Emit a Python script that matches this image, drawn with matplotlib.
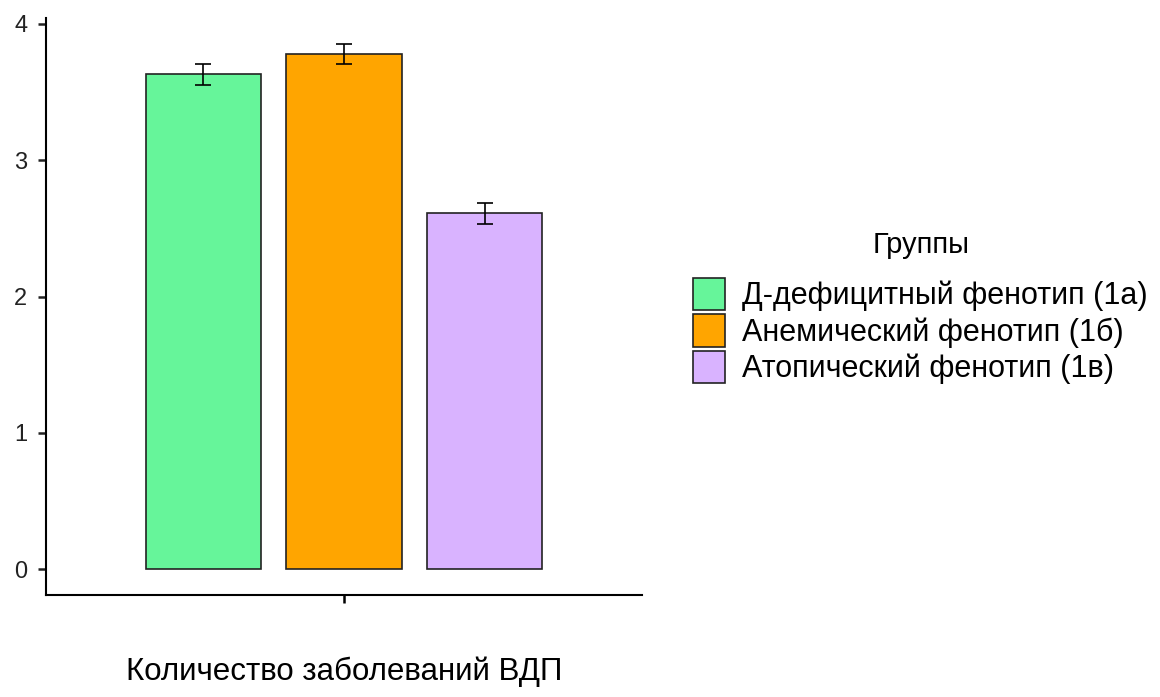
import matplotlib.pyplot as plt
from matplotlib.patches import Patch

# data
groups = ['Д-дефицитный фенотип (1а)', 'Анемический фенотип (1б)', 'Атопический фенотип (1в)']
means = [3.63, 3.78, 2.61]
errors = [0.08, 0.075, 0.075]
colors = ['#66f59a', '#ffa500', '#d9b3ff']
category = 'Количество заболеваний ВДП'
legend_title = 'Группы'

plt.rcParams['font.family'] = ['Liberation Sans', 'DejaVu Sans']

fig = plt.figure(figsize=(11.6, 6.97), dpi=100)
ax = fig.add_axes([46 / 1160, 1 - 595 / 697, (642 - 46) / 1160, (595 - 18) / 697])

pos = [-1, 0, 1]
ax.bar(pos, means, width=0.82, color=colors, edgecolor='#222222', linewidth=1.2)
ax.errorbar(pos, means, yerr=errors, fmt='none', ecolor='black', elinewidth=1.2,
            capsize=5.5, capthick=1.2)

ax.set_xlim(-2.12, 2.12)
ax.set_ylim(-0.19, 4.044)
ax.set_yticks([0, 1, 2, 3, 4])
ax.set_xticks([0])
ax.set_xticklabels([''])
ax.tick_params(axis='y', labelsize=17, length=5.5, width=1.8, pad=8, colors='#222222')
ax.tick_params(axis='x', length=5.5, width=1.8)
ax.spines['top'].set_visible(False)
ax.spines['right'].set_visible(False)
ax.spines['left'].set_linewidth(1.5)
ax.spines['bottom'].set_linewidth(1.5)

fig.text(344 / 1160, 1 - 672 / 697, category, ha='center', va='center', fontsize=22.5)

# legend title drawn separately to get the wider gap seen in the original
fig.text(921 / 1160, 1 - 245 / 697, legend_title, ha='center', va='center', fontsize=21)
handles = [Patch(facecolor=c, edgecolor='#222222', linewidth=1.2) for c in colors]
leg = fig.legend(handles, groups, loc='upper left',
                 bbox_to_anchor=(693 / 1160, 1 - 278 / 697), frameon=False,
                 fontsize=22, handlelength=1.05, handleheight=1.25,
                 handletextpad=0.55, labelspacing=0.1, borderpad=0, borderaxespad=0)
fig.savefig('out.png', dpi=100)
